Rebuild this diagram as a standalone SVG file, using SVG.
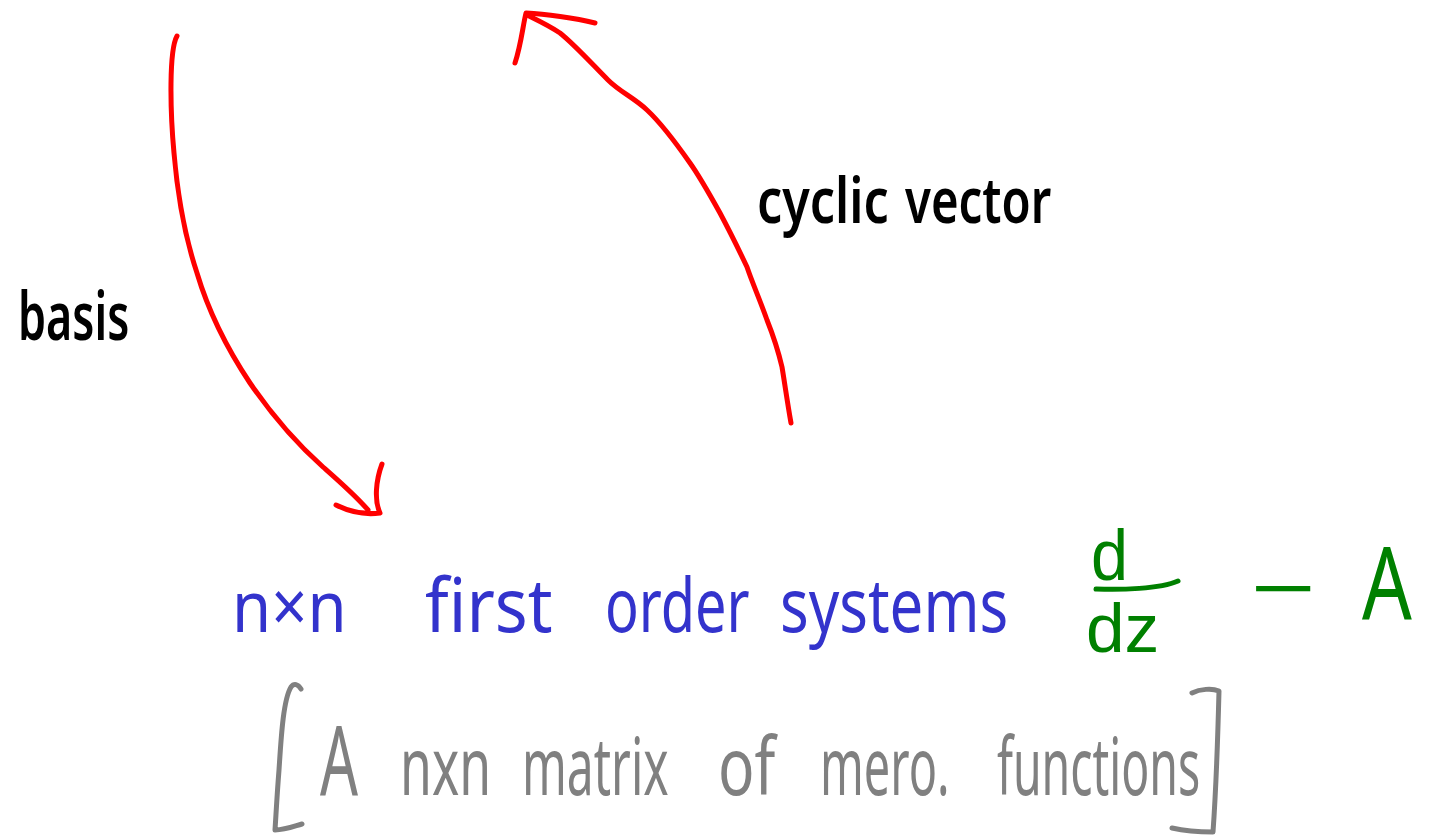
<svg xmlns="http://www.w3.org/2000/svg" width="1433" height="838" viewBox="0 0 1433 838">
  <style>
    .ink { fill: none; stroke-linecap: round; stroke-linejoin: round; }
    .red { stroke: #ff0000; stroke-width: 5; }
    .hand { font-family: "Noto Sans", "DejaVu Sans", sans-serif; }
    .frac { font-family: "Liberation Sans", Arial, sans-serif; }
    .black { fill: #000000; font-weight: 600; }
    .blue { fill: #3333cc; }
    .green { fill: #008000; }
    .gray { fill: #808080; }
  </style>
  <rect width="1433" height="838" fill="#ffffff"/>

  <!-- curved arrows -->
  <g id="connectors" class="ink red">
    <g id="basis-arrow">
      <path d="M177,36 C169,50 170,110 174,153 C178,200 186,240 197,273 C208,310 228,350 250,383 C272,415 295,442 323,467 C340,482 355,495 368,510"/>
      <path d="M382,464 C376,480 374,500 380,513 C365,515 350,512 336,505"/>
    </g>
    <g id="cyclic-arrow">
      <path d="M791,423 C787,400 785,385 782,367 C778,350 773,335 767,320 C760,300 752,282 747,267 C738,248 728,228 720,213 C710,195 700,177 690,163 C676,143 662,124 647,110 C633,97 620,92 608,80 C592,64 575,45 560,33 C548,25 535,19 527,15"/>
      <path d="M595,23 C575,18 545,14 526,13 C523,25 521,45 515,63"/>
    </g>
  </g>

  <!-- arrow labels -->
  <g id="label-basis" class="hand black">
    <text transform="translate(18,340) scale(0.68,1)" font-size="66">basis</text>
  </g>
  <g id="label-cyclic" class="hand black">
    <text transform="translate(757,223) scale(0.785,1)" font-size="64">cyclic</text>
    <text transform="translate(905,223) scale(0.74,1)" font-size="64">vector</text>
  </g>

  <!-- main statement -->
  <g id="systems" class="hand blue">
    <text transform="translate(232,632) scale(0.88,1)" font-size="72">n×n</text>
    <text transform="translate(425,632) scale(0.93,1)" font-size="74">first</text>
    <text transform="translate(605,632) scale(0.755,1)" font-size="74">order</text>
    <text transform="translate(780,632) scale(0.81,1)" font-size="74">systems</text>
  </g>

  <!-- operator d/dz - A -->
  <g id="operator">
    <g class="green">
      <text class="frac" transform="translate(1091,580) scale(1.15,1.25)" font-size="58">d</text>
      <text class="frac" transform="translate(1086,652) scale(1.12,1.1)" font-size="62">dz</text>
      <text class="hand" transform="translate(1250,614) scale(1.6,1)" font-size="72">−</text>
      <text class="hand" transform="translate(1362,619) scale(0.78,1)" font-size="100">A</text>
    </g>
    <path class="ink" stroke="#008000" stroke-width="5" d="M1096,589 C1120,590 1160,589 1178,581"/>
  </g>

  <!-- bracketed remark -->
  <g id="remark">
    <g class="hand gray">
      <text transform="translate(320,795) scale(0.62,1)" font-size="96">A</text>
      <text transform="translate(400,795) scale(0.645,1)" font-size="80">nxn</text>
      <text transform="translate(522,795) scale(0.6,1)" font-size="80">matrix</text>
      <text transform="translate(718,795) scale(0.755,1)" font-size="80">of</text>
      <text transform="translate(820,795) scale(0.586,1)" font-size="80">mero.</text>
      <text transform="translate(997,795) scale(0.58,1)" font-size="80">functions</text>
    </g>
    <g class="ink" stroke="#808080" stroke-width="5">
      <path d="M301,689 C298,684 294,683 291,687 C283,700 281,740 279,770 C277,795 276,815 275,830 C285,830 292,827 302,824"/>
      <path d="M1192,693 C1200,689 1212,688 1219,691 C1218,730 1216,790 1213,832 C1200,832 1185,831 1172,828"/>
    </g>
  </g>
</svg>
